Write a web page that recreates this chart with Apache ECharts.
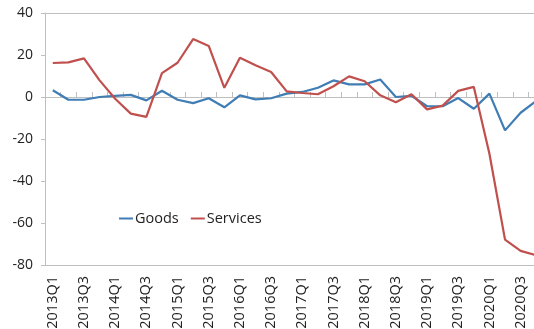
<!DOCTYPE html>
<html>
<head>
<meta charset="utf-8">
<script src="https://cdn.jsdelivr.net/npm/echarts@6/dist/echarts.min.js"></script>
<style>
  html, body { margin: 0; padding: 0; background: #fff; }
  #chart { width: 534px; height: 329px; }
</style>
</head>
<body>
<div id="chart"></div>
<script>
var quarters = [
    "2013Q1", "2013Q2", "2013Q3", "2013Q4",
    "2014Q1", "2014Q2", "2014Q3", "2014Q4",
    "2015Q1", "2015Q2", "2015Q3", "2015Q4",
    "2016Q1", "2016Q2", "2016Q3", "2016Q4",
    "2017Q1", "2017Q2", "2017Q3", "2017Q4",
    "2018Q1", "2018Q2", "2018Q3", "2018Q4",
    "2019Q1", "2019Q2", "2019Q3", "2019Q4",
    "2020Q1", "2020Q2", "2020Q3", "2020Q4"
];
var goods = [
    3.2, -1.3, -1.3, 0.0, 0.5, 1.0, -1.6, 3.0,
    -1.3, -2.9, -0.6, -4.9, 0.8, -1.1, -0.6, 1.6,
    2.4, 4.4, 7.9, 6.0, 6.0, 8.3, 0.0, 0.6,
    -4.4, -4.4, -0.5, -5.6, 1.6, -15.9, -7.5, -1.9
];
var services = [
    16.2, 16.5, 18.4, 7.9, -0.8, -7.9, -9.5, 11.4,
    16.3, 27.6, 24.3, 4.4, 18.7, 15.1, 11.9, 2.7,
    1.9, 1.3, 5.1, 9.8, 7.5, 0.8, -2.5, 1.3,
    -5.9, -4.1, 2.9, 4.8, -27.0, -67.9, -73.3, -75.4
];
var yTicks = { min: -80, max: 40, step: 20 };

var chart = echarts.init(document.getElementById('chart'));
var font = 'Segoe UI, Open Sans, sans-serif';
var gray = '#BFBFBF';

var option = {
    animation: false,
    grid: { left: 45, top: 13, width: 499, height: 252, containLabel: false, outerBoundsMode: 'none' },
    legend: {
        left: 114,
        top: 206,
        itemWidth: 14,
        itemGap: 12,
        icon: 'rect',
        itemHeight: 2,
        textStyle: { fontFamily: font, fontSize: 14.5, color: '#222', padding: [0, 0, 0, -3] },
        data: ['Goods', 'Services']
    },
    xAxis: [{
        type: 'category',
        data: quarters,
        position: 'bottom',
        axisLine: { onZero: true, lineStyle: { color: gray, width: 1 } },
        axisTick: { show: true, inside: true, length: 5, interval: 0, lineStyle: { color: gray } },
        axisLabel: { show: false },
        splitLine: { show: false }
    }, {
        type: 'category',
        data: quarters,
        position: 'bottom',
        axisLine: { onZero: false, lineStyle: { color: gray, width: 1 } },
        axisTick: { show: false },
        axisLabel: {
            rotate: 90, interval: 1, margin: 11,
            fontFamily: font, fontSize: 14.5, color: '#222'
        },
        splitLine: { show: false }
    }, {
        type: 'category',
        data: quarters,
        position: 'top',
        axisLine: { onZero: false, lineStyle: { color: gray, width: 1 } },
        axisTick: { show: false },
        axisLabel: { show: false },
        splitLine: { show: false }
    }],
    yAxis: {
        type: 'value',
        min: yTicks.min,
        max: yTicks.max,
        interval: yTicks.step,
        axisLine: { show: true, lineStyle: { color: gray, width: 1 } },
        axisTick: { show: true, length: 4, lineStyle: { color: gray } },
        axisLabel: { fontFamily: font, fontSize: 14, color: '#222', margin: 12 },
        splitLine: { show: false }
    },
    series: [{
        name: 'Goods',
        type: 'line',
        xAxisIndex: 0,
        data: goods,
        symbol: 'none',
        itemStyle: { color: '#3F7DB4' },
        lineStyle: { color: '#3F7DB4', width: 2.2 }
    }, {
        name: 'Services',
        type: 'line',
        xAxisIndex: 0,
        data: services,
        symbol: 'none',
        itemStyle: { color: '#C0504D' },
        lineStyle: { color: '#C0504D', width: 2.2 }
    }]
};

chart.setOption(option);
</script>
</body>
</html>
